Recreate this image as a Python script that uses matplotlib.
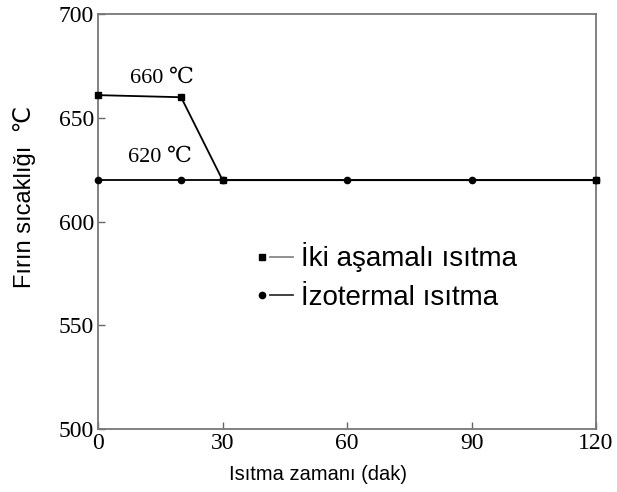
import matplotlib
matplotlib.use("Agg")
import matplotlib.pyplot as plt
from matplotlib.lines import Line2D
from matplotlib.legend_handler import HandlerBase

# heating schedules (time in min, furnace temperature in C)
two_stage_t = [0, 20, 30, 120]
two_stage_T = [661, 660, 620, 620]
iso_t = [0, 20, 30, 60, 90, 120]
iso_T = [620, 620, 620, 620, 620, 620]

xticks = [0, 30, 60, 90, 120]
yticks = [500, 550, 600, 650, 700]

serif = ['Liberation Serif', 'DejaVu Serif']
sans = ['Liberation Sans', 'DejaVu Sans']


class MarkerThenLine(HandlerBase):
    """legend handle: marker on the left, short line to its right"""
    def __init__(self, line_color, **kw):
        super().__init__(**kw)
        self.line_color = line_color

    def create_artists(self, legend, orig_handle, xdescent, ydescent,
                       width, height, fontsize, trans):
        y = height / 2 - ydescent
        mk = Line2D([-xdescent + 0.18 * width], [y], marker=orig_handle.get_marker(),
                    markersize=orig_handle.get_markersize(), color='black',
                    linestyle='none', transform=trans)
        ln = Line2D([-xdescent + 0.38 * width, -xdescent + 0.95 * width], [y, y],
                    color=self.line_color, lw=1.3, transform=trans)
        return [ln, mk]


fig = plt.figure(figsize=(6.17, 4.92), dpi=100)
ax = fig.add_axes([0.159, 0.128, 0.807, 0.843])

l1, = ax.plot(two_stage_t, two_stage_T, color='black', lw=1.3,
              marker='s', markersize=4.5, clip_on=False, zorder=3)
l2, = ax.plot(iso_t, iso_T, color='black', lw=1.3,
              marker='o', markersize=4.5, clip_on=False, zorder=3)

ax.text(7.7, 669, '660 ℃', family=serif, fontsize=16, ha='left', va='center')
ax.text(7.2, 631, '620 ℃', family=serif, fontsize=16, ha='left', va='center')

ax.set_xlim(0, 120)
ax.set_ylim(500, 700)
ax.set_xticks(xticks)
ax.set_yticks(yticks)
ax.tick_params(direction='in', length=5, width=1, color='#666666',
               labelsize=17, labelfontfamily='Liberation Serif', pad=3)
for sp in ax.spines.values():
    sp.set_color('#777777')
    sp.set_linewidth(1.3)

ax.set_xlabel('Isıtma zamanı (dak)', family=sans, fontsize=14.5)
ax.xaxis.set_label_coords(0.442, -0.087)
ax.set_ylabel('Fırın sıcaklığı  ℃', family=sans, fontsize=17)
ax.yaxis.set_label_coords(-0.125, 0.559)

ax.legend([l1, l2], ['İki aşamalı ısıtma', 'İzotermal ısıtma'],
          handler_map={l1: MarkerThenLine('#888888'), l2: MarkerThenLine('#333333')},
          loc='upper left', bbox_to_anchor=(0.315, 0.45), frameon=False,
          prop={'family': sans, 'size': 20}, handlelength=1.45, handletextpad=0.2,
          labelspacing=0.45, borderpad=0, borderaxespad=0)

fig.savefig('out.png', dpi=100)
